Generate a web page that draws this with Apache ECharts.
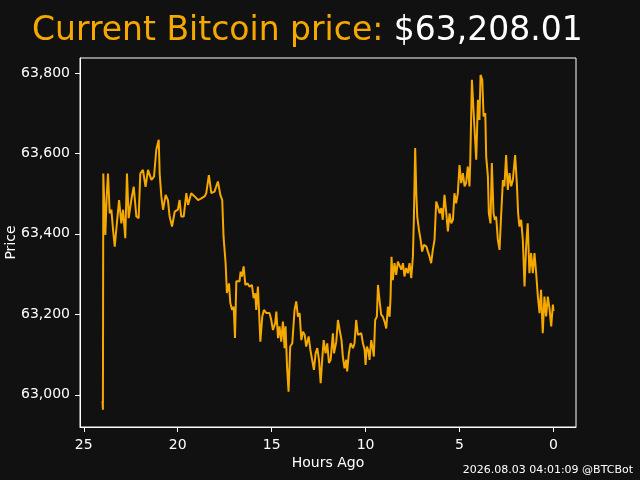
<!DOCTYPE html>
<html>
<head>
<meta charset="utf-8">
<script src="https://cdn.jsdelivr.net/npm/echarts@6/dist/echarts.min.js"></script>
<style>
  html, body { margin: 0; padding: 0; background: #111111; }
  #chart { width: 640px; height: 480px; }
</style>
</head>
<body>
<div id="chart"></div>
<script>
// hours ago for each sample
const hoursAgo = [
  24.00, 23.98, 23.96, 23.92, 23.85, 23.78, 23.71, 23.62, 23.53, 23.44, 23.35, 23.27,
  23.12, 23.00, 22.91, 22.79, 22.70, 22.61, 22.47, 22.34, 22.20, 22.08, 21.99, 21.85,
  21.71, 21.58, 21.40, 21.26, 21.14, 21.01, 20.96, 20.87, 20.78, 20.64, 20.52, 20.43,
  20.30, 20.16, 19.99, 19.90, 19.81, 19.68, 19.54, 19.45, 19.28, 19.10, 18.92, 18.74,
  18.57, 18.48, 18.34, 18.21, 18.04, 17.86, 17.73, 17.63, 17.56, 17.45, 17.38, 17.27,
  17.20, 17.10, 17.02, 16.95, 16.88, 16.71,
  16.65, 16.58, 16.49, 16.40, 16.29, 16.17, 16.05, 15.96, 15.87, 15.82, 15.73, 15.67,
  15.60, 15.50, 15.41, 15.28, 15.11, 15.02, 14.93, 14.81, 14.75, 14.66, 14.58, 14.49,
  14.40, 14.31, 14.26, 14.18, 14.10, 14.01, 13.90, 13.78, 13.69, 13.60, 13.51, 13.42,
  13.33, 13.24, 13.16, 13.03, 12.94, 12.85, 12.75, 12.66, 12.57, 12.48, 12.39, 12.31,
  12.23, 12.13, 12.04, 11.95, 11.86, 11.74, 11.68, 11.56, 11.47, 11.38, 11.28, 11.21,
  11.12, 11.03, 10.98, 10.89, 10.80, 10.67, 10.59, 10.50, 10.41, 10.32, 10.23, 10.14,
  10.05, 10.00, 9.93, 9.84, 9.79, 9.70, 9.61, 9.56, 9.49, 9.40, 9.34, 9.26,
  9.17, 9.08, 8.99, 8.90, 8.81, 8.72, 8.67, 8.62, 8.55, 8.46, 8.37, 8.28, 8.19,
  8.10, 8.01, 7.93, 7.84, 7.75, 7.66, 7.57, 7.48, 7.43, 7.36, 7.30, 7.25,
  7.16, 7.07, 6.99, 6.90, 6.77, 6.68, 6.60, 6.51, 6.42, 6.33, 6.24, 6.15,
  6.06, 5.97, 5.89, 5.80, 5.71, 5.62, 5.53, 5.44, 5.35, 5.27, 5.18, 5.09,
  5.00, 4.91, 4.82, 4.73, 4.65, 4.56, 4.47, 4.43, 4.34, 4.25, 4.18, 4.11,
  4.02, 3.94, 3.88, 3.79, 3.72, 3.63, 3.58, 3.49, 3.44, 3.35, 3.28, 3.19,
  3.12, 3.05, 2.96, 2.87, 2.78, 2.69, 2.61, 2.52, 2.43, 2.34, 2.25, 2.16,
  2.04, 1.95, 1.88, 1.81, 1.72, 1.63, 1.54, 1.45, 1.37, 1.28, 1.19, 1.10,
  1.01, 0.92, 0.83, 0.74, 0.66, 0.57, 0.48, 0.39, 0.30, 0.21, 0.12, 0.03, 0.00
]

// BTC price in USD at each sample
const prices = [
  62985, 62963, 63550, 63550, 63397, 63493, 63550, 63451, 63460, 63410, 63368, 63410,
  63484, 63426, 63460, 63389, 63550, 63439, 63484, 63517, 63443, 63439, 63550, 63559,
  63517, 63559, 63534, 63542, 63609, 63634, 63550, 63493, 63460, 63497, 63484, 63443,
  63418, 63455, 63460, 63484, 63443, 63443, 63501, 63472, 63501, 63493, 63484, 63488,
  63493, 63501, 63546, 63501, 63505, 63530, 63497, 63484, 63393, 63327, 63253, 63277,
  63228, 63211, 63219, 63141, 63282, 63282,
  63306, 63294, 63319, 63273, 63277, 63269, 63273, 63240, 63252, 63211, 63269, 63207,
  63132, 63194, 63211, 63203, 63203, 63186, 63161, 63178, 63207, 63141, 63170, 63132,
  63182, 63116, 63170, 63070, 63008, 63120, 63128, 63211, 63232, 63194, 63203, 63136,
  63157, 63149, 63120, 63145, 63112, 63116, 63062, 63103, 63116, 63087, 63029, 63087,
  63136, 63103, 63128, 63079, 63087, 63153, 63103, 63132, 63186, 63161, 63136, 63095,
  63066, 63087, 63058, 63103, 63128, 63116, 63128, 63186, 63149, 63149, 63153, 63128,
  63112, 63074, 63120, 63108, 63087, 63136, 63112, 63095, 63186, 63194, 63273, 63236,
  63199, 63194, 63182, 63165, 63219, 63194, 63244, 63343, 63285, 63327, 63298, 63331, 63335,
  63311, 63327, 63294, 63315, 63302, 63327, 63290, 63344, 63435, 63613, 63501, 63443,
  63410, 63385, 63356, 63373, 63369, 63373, 63344, 63327, 63360, 63385, 63480, 63468,
  63451, 63464, 63435, 63497, 63455, 63406, 63451, 63426, 63435, 63501, 63476, 63501,
  63571, 63526, 63551, 63518, 63526, 63567, 63518, 63576, 63783, 63787, 63642, 63584,
  63733, 63683, 63795, 63783, 63692, 63700, 63592, 63543, 63451, 63426, 63576, 63451,
  63435, 63443, 63385, 63360, 63451, 63534, 63518, 63596, 63509, 63551, 63518, 63534,
  63596, 63526, 63451, 63418, 63435, 63385, 63269, 63373, 63426, 63302, 63352, 63302,
  63352, 63302, 63244, 63203, 63261, 63153, 63244, 63195, 63244, 63215, 63170, 63224, 63208
]

const xTicks = [0, 5, 10, 15, 20, 25]
const yTicks = [63000, 63200, 63400, 63600, 63800]

const currentPrice = '$63,208.01'
const stamp = '2026.08.03 04:01:09 @BTCBot'

const ORANGE = '#f5a800'
const FONT = 'DejaVu Sans'

const chart = echarts.init(document.getElementById('chart'), null, { renderer: 'canvas' })

const axisText = { color: '#ffffff', fontFamily: FONT, fontSize: 14 }

const option = {
  backgroundColor: '#111111',
  animation: false,
  title: {
    left: 27,
    top: 10,
    text: '{a|Current Bitcoin price: }{b|' + currentPrice + '}',
    textStyle: {
      fontWeight: 'normal',
      rich: {
        a: { color: ORANGE, fontFamily: FONT, fontSize: 33, fontWeight: 'normal' },
        b: { color: '#ffffff', fontFamily: FONT, fontSize: 33, fontWeight: 'normal' },
      },
    },
  },
  grid: {
    left: 80,
    right: 64,
    top: 58,
    bottom: 53,
    outerBoundsMode: 'none',
    containLabel: false,
    show: true,
    borderColor: '#ffffff',
    borderWidth: 1,
    backgroundColor: 'transparent',
  },
  xAxis: {
    type: 'value',
    inverse: true,
    min: -1.2,
    max: 25.2,
    name: 'Hours Ago',
    nameLocation: 'middle',
    nameGap: 29,
    nameMoveOverlap: false,
    nameTextStyle: axisText,
    axisLine: { show: true, onZero: false, lineStyle: { color: '#ffffff', width: 1 } },
    axisTick: { show: true, length: 5, lineStyle: { color: '#ffffff' }, customValues: xTicks },
    axisLabel: { ...axisText, margin: 11, customValues: xTicks },
    splitLine: { show: false },
  },
  yAxis: {
    type: 'value',
    min: 62920,
    max: 63837,
    name: 'Price',
    nameLocation: 'middle',
    nameGap: 62,
    nameMoveOverlap: false,
    nameTextStyle: axisText,
    axisLine: { show: true, onZero: false, lineStyle: { color: '#ffffff', width: 1 } },
    axisTick: { show: true, length: 5, lineStyle: { color: '#ffffff' }, customValues: yTicks },
    axisLabel: {
      ...axisText,
      margin: 10,
      customValues: yTicks,
      formatter: v => v.toLocaleString('en-US'),
    },
    splitLine: { show: false },
  },
  graphic: [{
    type: 'text',
    right: 7,
    bottom: 4,
    style: { text: stamp, fill: '#ffffff', font: '11px "DejaVu Sans"' },
  }],
  series: [{
    type: 'line',
    data: hoursAgo.map((h, i) => [h, prices[i]]),
    showSymbol: false,
    lineStyle: { color: ORANGE, width: 2 },
    itemStyle: { color: ORANGE },
  }],
}

chart.setOption(option)
</script>
</body>
</html>
